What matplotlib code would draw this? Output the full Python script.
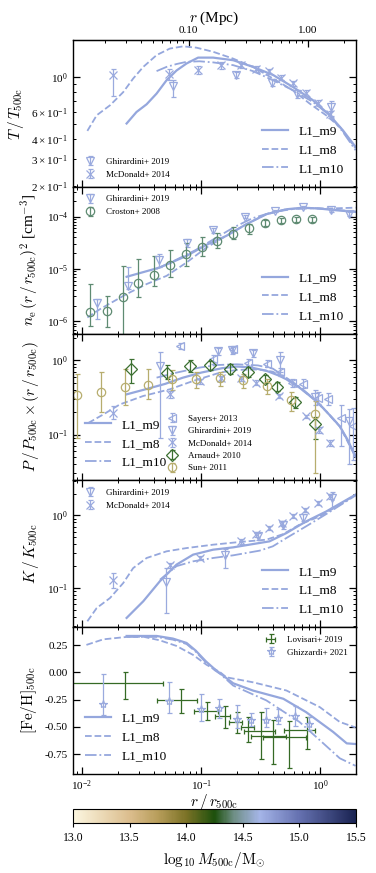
import numpy as np
import matplotlib
matplotlib.use('Agg')
import matplotlib.pyplot as plt
from matplotlib.colors import LinearSegmentedColormap, Normalize
from matplotlib.cm import ScalarMappable
from matplotlib.ticker import FormatStrFormatter, NullFormatter, FixedLocator

plt.rcParams['font.family'] = 'serif'
plt.rcParams['font.serif'] = ['Liberation Serif', 'DejaVu Serif']
plt.rcParams['mathtext.fontset'] = 'cm'
plt.rcParams['axes.unicode_minus'] = True

# colours
c_line = '#95a7dd'
c_blue = '#9aaade'
c_croston = '#5f8b72'
c_arnaud = '#3c7031'
c_sun = '#b7ad6e'
c_lov = '#356a25'

r500_mpc = 1.27

# ---------------- Temperature ----------------
T_m9_x = [0.0237, 0.0287, 0.0349, 0.0423, 0.0513, 0.0622, 0.0755, 0.0944, 0.126, 0.186, 0.273, 0.402, 0.59, 0.869, 1.20, 1.55, 1.98]
T_m9_y = [0.504, 0.597, 0.669, 0.783, 0.953, 1.10, 1.22, 1.33, 1.33, 1.28, 1.16, 1.03, 0.863, 0.710, 0.569, 0.456, 0.357]
T_m8_x = [0.0111, 0.0133, 0.0172, 0.0222, 0.0269, 0.0327, 0.0423, 0.0547, 0.0707, 0.0914, 0.126, 0.186, 0.273, 0.402, 0.59, 0.815, 1.12, 1.46, 1.98]
T_m8_y = [0.452, 0.569, 0.659, 0.80, 0.977, 1.16, 1.38, 1.52, 1.57, 1.54, 1.45, 1.31, 1.16, 0.977, 0.822, 0.676, 0.569, 0.479, 0.35]
T_m10_x = [0.0423, 0.0513, 0.0622, 0.0755, 0.097, 0.126, 0.186, 0.273, 0.402, 0.59, 0.869, 1.20, 1.55, 1.98]
T_m10_y = [1.09, 1.16, 1.21, 1.25, 1.26, 1.24, 1.19, 1.09, 0.953, 0.822, 0.692, 0.569, 0.445, 0.34]

T_gh_x = [0.058, 0.198, 0.397, 0.643, 1.24]
T_gh_y = [0.87, 1.03, 0.92, 0.775, 0.643]
T_gh_lo = [0.745, 0.98, 0.87, 0.73, 0.56]
T_gh_hi = [0.95, 1.08, 0.97, 0.82, 0.70]
T_md_x = [0.0183, 0.0536, 0.0944, 0.148, 0.218, 0.288, 0.372, 0.472, 0.59, 0.765, 0.958, 1.20]
T_md_y = [1.03, 1.04, 1.11, 1.19, 1.19, 1.13, 1.09, 0.99, 0.91, 0.79, 0.68, 0.58]
T_md_lo = [0.76, 0.96, 1.05, 1.13, 1.14, 1.08, 1.05, 0.95, 0.88, 0.76, 0.65, 0.55]
T_md_hi = [1.13, 1.12, 1.17, 1.25, 1.24, 1.18, 1.13, 1.03, 0.94, 0.82, 0.71, 0.61]

# ---------------- Density ----------------
n_m9_x = [0.0237, 0.0451, 0.0755, 0.111, 0.163, 0.240, 0.353, 0.520, 0.717, 0.989, 1.36, 1.98]
n_m9_y = [7.1e-6, 1.07e-5, 1.78e-5, 2.89e-5, 4.29e-5, 7.17e-5, 1.11e-4, 1.38e-4, 1.48e-4, 1.42e-4, 1.32e-4, 1.23e-4]
n_m8_x = [0.0111, 0.0142, 0.0237, 0.0349, 0.0513, 0.0755, 0.111, 0.163, 0.240, 0.353, 0.520, 0.760, 1.12, 1.98]
n_m8_y = [1.19e-6, 1.72e-6, 3.33e-6, 5.16e-6, 7.4e-6, 1.33e-5, 2.57e-5, 4.29e-5, 7.17e-5, 1.11e-4, 1.38e-4, 1.45e-4, 1.42e-4, 1.48e-4]
n_m10_x = [0.042, 0.06, 0.09, 0.13, 0.19, 0.27, 0.4, 0.6, 0.9, 1.3, 1.98]
n_m10_y = [1.0e-5, 1.45e-5, 2.3e-5, 3.8e-5, 6.3e-5, 9.3e-5, 1.22e-4, 1.4e-4, 1.45e-4, 1.36e-4, 1.25e-4]

n_gh_x = [0.0133, 0.0244, 0.0444, 0.0755, 0.126, 0.232, 0.415, 0.717, 1.24, 1.76]
n_gh_y = [2.2e-6, 4.8e-6, 1.48e-5, 3.2e-5, 5.5e-5, 9.9e-5, 1.29e-4, 1.53e-4, 1.32e-4, 1.11e-4]
n_gh_lo = [1.1e-6, 4.1e-6, 1.07e-5, 2.6e-5, 4.9e-5, 9.2e-5, 1.22e-4, 1.46e-4, 1.25e-4, 1.02e-4]
n_gh_hi = [2.7e-6, 1.07e-5, 1.9e-5, 3.7e-5, 6.0e-5, 1.06e-4, 1.36e-4, 1.60e-4, 1.39e-4, 1.2e-4]
n_cr_x = [0.0117, 0.0161, 0.0219, 0.0296, 0.0401, 0.0547, 0.0744, 0.101, 0.136, 0.185, 0.252, 0.342, 0.466, 0.631, 0.859]
n_cr_y = [1.48e-6, 1.6e-6, 2.86e-6, 5.3e-6, 7.8e-6, 1.19e-5, 1.92e-5, 2.65e-5, 3.45e-5, 4.7e-5, 6.0e-5, 7.5e-5, 8.5e-5, 8.9e-5, 8.9e-5]
n_cr_lo = [8.3e-7, 7.7e-7, 4.5e-7, 2.86e-6, 4.8e-6, 7.0e-6, 1.15e-5, 1.78e-5, 2.5e-5, 3.7e-5, 4.6e-5, 6.5e-5, 7.6e-5, 8.0e-5, 8.0e-5]
n_cr_hi = [5.2e-6, 3.1e-6, 1.15e-5, 1.54e-5, 1.78e-5, 2.3e-5, 3.2e-5, 4.0e-5, 4.95e-5, 6.2e-5, 7.2e-5, 8.5e-5, 9.3e-5, 9.7e-5, 9.7e-5]

# ---------------- Pressure ----------------
P_m9_x = [0.0237, 0.035, 0.05, 0.07, 0.1, 0.15, 0.2, 0.26, 0.353, 0.45, 0.52, 0.67, 0.926, 1.12, 1.46, 1.7, 1.98]
P_m9_y = [0.347, 0.41, 0.48, 0.58, 0.68, 0.78, 0.82, 0.80, 0.72, 0.62, 0.553, 0.427, 0.282, 0.206, 0.129, 0.085, 0.05]
P_m8_x = [0.0113, 0.0151, 0.0208, 0.0327, 0.0547, 0.0857, 0.144, 0.2, 0.3, 0.4, 0.52, 0.67, 0.926, 1.12, 1.46, 1.98]
P_m8_y = [0.143, 0.186, 0.254, 0.33, 0.406, 0.525, 0.68, 0.74, 0.75, 0.70, 0.56, 0.43, 0.28, 0.205, 0.128, 0.05]
P_m10_x = [0.0423, 0.0622, 0.097, 0.135, 0.2, 0.3, 0.4, 0.52, 0.67, 0.926, 1.12, 1.46, 1.98]
P_m10_y = [0.582, 0.68, 0.794, 0.86, 0.88, 0.85, 0.77, 0.58, 0.44, 0.285, 0.207, 0.13, 0.052]

P_sy_x = [0.066, 0.126, 0.185, 0.25, 0.36, 0.46, 0.58, 0.72, 0.95, 1.17, 1.5, 1.87]
P_sy_y = [1.56, 1.03, 1.40, 0.93, 0.90, 0.70, 0.50, 0.48, 0.31, 0.30, 0.165, 0.13]
P_sy_lo = [1.40, 0.90, 1.25, 0.83, 0.80, 0.62, 0.44, 0.42, 0.26, 0.25, 0.07, 0.045]
P_sy_hi = [1.72, 1.16, 1.55, 1.03, 1.00, 0.78, 0.56, 0.55, 0.37, 0.36, 0.25, 0.23]
P_gh_x = [0.045, 0.14, 0.182, 0.273, 0.46, 0.9, 1.76]
P_gh_y = [0.84, 1.32, 1.36, 1.25, 1.0, 0.32, 0.15]
P_gh_lo = [0.09, 1.18, 1.22, 1.12, 0.70, 0.25, 0.04]
P_gh_hi = [1.27, 1.45, 1.50, 1.38, 1.30, 0.40, 0.22]
P_md_x = [0.0183, 0.0547, 0.097, 0.148, 0.218, 0.29, 0.455, 0.76, 0.98, 1.2]
P_md_y = [0.196, 0.35, 0.52, 0.57, 0.57, 0.50, 0.33, 0.175, 0.115, 0.077]
P_md_lo = [0.16, 0.31, 0.48, 0.53, 0.53, 0.46, 0.31, 0.165, 0.105, 0.07]
P_md_hi = [0.24, 0.39, 0.56, 0.61, 0.61, 0.54, 0.35, 0.185, 0.125, 0.085]
P_ar_x = [0.0257, 0.0513, 0.080, 0.118, 0.174, 0.247, 0.342, 0.43, 0.62, 0.9]
P_ar_y = [0.75, 0.68, 0.83, 0.85, 0.77, 0.70, 0.56, 0.44, 0.27, 0.14]
P_ar_lo = [0.50, 0.55, 0.70, 0.73, 0.66, 0.60, 0.49, 0.38, 0.23, 0.086]
P_ar_hi = [1.05, 0.85, 1.00, 0.98, 0.90, 0.80, 0.64, 0.51, 0.32, 0.17]
P_sun_x = [0.0090, 0.0145, 0.023, 0.036, 0.057, 0.091, 0.144, 0.224, 0.36, 0.57, 0.9]
P_sun_y = [0.34, 0.37, 0.43, 0.47, 0.55, 0.55, 0.57, 0.54, 0.45, 0.29, 0.19]
P_sun_lo = [0.09, 0.20, 0.25, 0.30, 0.40, 0.42, 0.45, 0.42, 0.35, 0.21, 0.03]
P_sun_hi = [0.65, 0.70, 0.75, 0.75, 0.74, 0.70, 0.70, 0.66, 0.55, 0.37, 0.28]

# ---------------- Entropy ----------------
K_m9_x = [0.0237, 0.0327, 0.0451, 0.0622, 0.0857, 0.126, 0.186, 0.273, 0.375, 0.52, 0.76, 1.12, 1.98]
K_m9_y = [0.0387, 0.0656, 0.124, 0.21, 0.288, 0.337, 0.363, 0.403, 0.439, 0.571, 0.826, 1.13, 1.93]
K_m8_x = [0.0111, 0.0133, 0.0172, 0.0222, 0.0269, 0.0349, 0.0513, 0.0755, 0.126, 0.21, 0.353, 0.49, 0.67, 0.99, 1.46, 1.98]
K_m8_y = [0.0348, 0.053, 0.0728, 0.117, 0.188, 0.259, 0.32, 0.355, 0.395, 0.43, 0.463, 0.553, 0.745, 0.97, 1.40, 1.93]
K_m10_x = [0.0451, 0.0622, 0.0857, 0.126, 0.186, 0.31, 0.40, 0.52, 0.76, 1.12, 1.98]
K_m10_y = [0.13, 0.2, 0.233, 0.259, 0.282, 0.327, 0.375, 0.488, 0.706, 1.04, 1.88]

K_gh_x = [0.0503, 0.16, 0.30, 0.49, 0.72, 1.26]
K_gh_y = [0.121, 0.288, 0.52, 0.745, 0.93, 1.73]
K_gh_lo = [0.045, 0.19, 0.46, 0.66, 0.83, 1.25]
K_gh_hi = [0.19, 0.34, 0.58, 0.83, 1.03, 2.1]
K_md_x = [0.0183, 0.0547, 0.097, 0.218, 0.29, 0.37, 0.48, 0.59, 0.75, 0.96, 1.2]
K_md_y = [0.13, 0.205, 0.259, 0.44, 0.553, 0.669, 0.784, 0.97, 1.2, 1.48, 1.83]
K_md_lo = [0.10, 0.19, 0.245, 0.41, 0.51, 0.62, 0.72, 0.91, 1.12, 1.38, 1.7]
K_md_hi = [0.16, 0.22, 0.275, 0.47, 0.60, 0.72, 0.85, 1.03, 1.28, 1.58, 1.98]

# ---------------- Metallicity ----------------
Z_m9_x = [0.0237, 0.0423, 0.058, 0.0755, 0.09, 0.11, 0.13, 0.145, 0.186, 0.273, 0.49, 0.76, 1.28, 1.67, 1.98]
Z_m9_y = [0.334, 0.334, 0.31, 0.27, 0.20, 0.10, 0.03, -0.01, -0.10, -0.167, -0.242, -0.364, -0.545, -0.651, -0.657]
Z_m8_x = [0.0109, 0.0151, 0.0237, 0.0327, 0.045, 0.062, 0.0857, 0.111, 0.145, 0.163, 0.273, 0.52, 0.99, 1.46, 1.98]
Z_m8_y = [0.252, 0.303, 0.325, 0.327, 0.294, 0.243, 0.16, 0.07, 0.0, -0.045, -0.091, -0.166, -0.318, -0.455, -0.505]
Z_m10_x = [0.0237, 0.0423, 0.058, 0.0755, 0.09, 0.11, 0.13, 0.145, 0.186, 0.353, 0.67, 0.99, 1.46, 1.98]
Z_m10_y = [0.325, 0.325, 0.30, 0.26, 0.19, 0.09, 0.02, -0.015, -0.121, -0.257, -0.455, -0.621, -0.788, -0.857]

Z_lov_x = [0.0229, 0.0684, 0.112, 0.158, 0.201, 0.248, 0.32, 0.40, 0.55, 0.77]
Z_lov_y = [-0.10, -0.25, -0.35, -0.40, -0.455, -0.505, -0.536, -0.584, -0.597, -0.53]
Z_lov_xlo = [0.006, 0.0423, 0.087, 0.13, 0.17, 0.216, 0.23, 0.26, 0.33, 0.5]
Z_lov_xhi = [0.048, 0.0924, 0.14, 0.176, 0.22, 0.28, 0.42, 0.52, 0.76, 0.9]
Z_lov_ylo = [-0.248, -0.37, -0.44, -0.51, -0.56, -0.64, -0.79, -0.84, -0.88, -0.70]
Z_lov_yhi = [0.0, -0.15, -0.27, -0.31, -0.36, -0.41, -0.36, -0.44, -0.45, -0.41]
Z_ghz_x = [0.0151, 0.054, 0.099, 0.141, 0.201, 0.264, 0.35, 0.44, 0.61, 0.80]
Z_ghz_y = [-0.288, -0.258, -0.333, -0.327, -0.424, -0.433, -0.433, -0.415, -0.403, -0.47]
Z_ghz_ylo = [-0.39, -0.37, -0.45, -0.42, -0.51, -0.49, -0.50, -0.47, -0.49, -0.53]
Z_ghz_yhi = [-0.015, -0.09, -0.20, -0.24, -0.30, -0.37, -0.33, -0.34, -0.31, -0.41]

# colour bar
cb_nodes = [0.0, 0.2, 0.3, 0.4, 0.5, 0.57, 0.66, 0.8, 1.0]
cb_cols = ['#fcf6e0', '#dbbd8d', '#b79d5a', '#7b7226', '#1d500d', '#6f8f86', '#a5b5e8', '#6571b0', '#1a2352']


def bounds_err(y, lo, hi):
    y = np.array(y)
    return [y - np.array(lo), np.array(hi) - y]


fig, axes = plt.subplots(5, 1, figsize=(3.76, 8.73), dpi=100, sharex=True)
fig.subplots_adjust(left=0.194, right=0.947, top=0.954, bottom=0.1134, hspace=0)

ms = 6
ekw = dict(elinewidth=0.9, capsize=1.8, capthick=0.9, mew=0.9)
lfs = 6.5  # data legend font size


def lines(ax, m9, m8, m10, loc, **kw):
    l1, = ax.plot(*m9, color=c_line, lw=1.6, ls='-', label='L1_m9')
    l2, = ax.plot(*m8, color=c_line, lw=1.3, ls='--', label='L1_m8')
    l3, = ax.plot(*m10, color=c_line, lw=1.3, ls='-.', label='L1_m10')
    leg = ax.legend(handles=[l1, l2, l3], loc=loc, frameon=False, fontsize=9.5,
                    handlelength=2.0, labelspacing=0.5, **kw)
    ax.add_artist(leg)


# T panel
ax = axes[0]
lines(ax, (T_m9_x, T_m9_y), (T_m8_x, T_m8_y), (T_m10_x, T_m10_y), 'lower right')
h1 = ax.errorbar(T_gh_x, T_gh_y, yerr=bounds_err(T_gh_y, T_gh_lo, T_gh_hi), fmt='v', mfc='none',
                 mec=c_blue, color=c_blue, ms=ms, label='Ghirardini+ 2019', **ekw)
h2 = ax.errorbar(T_md_x, T_md_y, yerr=bounds_err(T_md_y, T_md_lo, T_md_hi), fmt='x', mfc='none',
                 mec=c_blue, color=c_blue, ms=ms, label='McDonald+ 2014', **ekw)
ax.legend(handles=[h1, h2], loc='lower left', frameon=False, fontsize=lfs, bbox_to_anchor=(0.0, 0.0))
ax.set_yscale('log')
ax.set_ylim(0.198, 1.72)
ax.set_ylabel(r'$T\,/\,T_{\rm 500c}$', fontsize=11)

# n panel
ax = axes[1]
lines(ax, (n_m9_x, n_m9_y), (n_m8_x, n_m8_y), (n_m10_x, n_m10_y), 'lower right')
h1 = ax.errorbar(n_gh_x, n_gh_y, yerr=bounds_err(n_gh_y, n_gh_lo, n_gh_hi), fmt='v', mfc='none',
                 mec=c_blue, color=c_blue, ms=ms, label='Ghirardini+ 2019', **ekw)
h2 = ax.errorbar(n_cr_x, n_cr_y, yerr=bounds_err(n_cr_y, n_cr_lo, n_cr_hi), fmt='o', mfc='none',
                 mec=c_croston, color=c_croston, ms=ms, label='Croston+ 2008', **ekw)
ax.legend(handles=[h1, h2], loc='upper left', frameon=False, fontsize=lfs, bbox_to_anchor=(0.0, 1.0))
ax.set_yscale('log')
ax.set_ylim(5.83e-7, 3.68e-4)
ax.set_ylabel(r'$n_{\rm e}\,(r\,/\,r_{\rm 500c})^2$ [cm$^{-3}$]', fontsize=11)

# P panel
ax = axes[2]
lines(ax, (P_m9_x, P_m9_y), (P_m8_x, P_m8_y), (P_m10_x, P_m10_y), 'lower left')
h1 = ax.errorbar(P_sy_x, P_sy_y, yerr=bounds_err(P_sy_y, P_sy_lo, P_sy_hi), fmt='<', mfc='none',
                 mec=c_blue, color=c_blue, ms=ms, label='Sayers+ 2013', **ekw)
h2 = ax.errorbar(P_gh_x, P_gh_y, yerr=bounds_err(P_gh_y, P_gh_lo, P_gh_hi), fmt='v', mfc='none',
                 mec=c_blue, color=c_blue, ms=ms, label='Ghirardini+ 2019', **ekw)
h3 = ax.errorbar(P_md_x, P_md_y, yerr=bounds_err(P_md_y, P_md_lo, P_md_hi), fmt='x', mfc='none',
                 mec=c_blue, color=c_blue, ms=ms, label='McDonald+ 2014', **ekw)
h4 = ax.errorbar(P_ar_x, P_ar_y, yerr=bounds_err(P_ar_y, P_ar_lo, P_ar_hi), fmt='D', mfc='none',
                 mec=c_arnaud, color=c_arnaud, ms=ms, label='Arnaud+ 2010', **ekw)
h5 = ax.errorbar(P_sun_x, P_sun_y, yerr=bounds_err(P_sun_y, P_sun_lo, P_sun_hi), fmt='o', mfc='none',
                 mec=c_sun, color=c_sun, ms=ms, label='Sun+ 2011', **ekw)
ax.legend(handles=[h1, h2, h3, h4, h5], loc='lower left', frameon=False, fontsize=lfs,
          bbox_to_anchor=(0.29, 0.0), labelspacing=0.45)
ax.set_yscale('log')
ax.set_ylim(0.0241, 2.27)
ax.set_ylabel(r'$P\,/\,P_{\rm 500c}\times(r\,/\,r_{\rm 500c})$', fontsize=11)

# K panel
ax = axes[3]
lines(ax, (K_m9_x, K_m9_y), (K_m8_x, K_m8_y), (K_m10_x, K_m10_y), 'lower right')
h1 = ax.errorbar(K_gh_x, K_gh_y, yerr=bounds_err(K_gh_y, K_gh_lo, K_gh_hi), fmt='v', mfc='none',
                 mec=c_blue, color=c_blue, ms=ms, label='Ghirardini+ 2019', **ekw)
h2 = ax.errorbar(K_md_x, K_md_y, yerr=bounds_err(K_md_y, K_md_lo, K_md_hi), fmt='x', mfc='none',
                 mec=c_blue, color=c_blue, ms=ms, label='McDonald+ 2014', **ekw)
ax.legend(handles=[h1, h2], loc='upper left', frameon=False, fontsize=lfs, bbox_to_anchor=(0.0, 1.0))
ax.set_yscale('log')
ax.set_ylim(0.0288, 3.03)
ax.set_ylabel(r'$K\,/\,K_{\rm 500c}$', fontsize=11)

# Fe/H panel
ax = axes[4]
lines(ax, (Z_m9_x, Z_m9_y), (Z_m8_x, Z_m8_y), (Z_m10_x, Z_m10_y), 'lower left',
      bbox_to_anchor=(0.0, 0.0))
zx = np.array(Z_lov_x)
h1 = ax.errorbar(Z_lov_x, Z_lov_y, xerr=[zx - np.array(Z_lov_xlo), np.array(Z_lov_xhi) - zx],
                 yerr=bounds_err(Z_lov_y, Z_lov_ylo, Z_lov_yhi), fmt='none',
                 color=c_lov, label='Lovisari+ 2019', elinewidth=0.9, capsize=1.8, capthick=0.9)
h2 = ax.errorbar(Z_ghz_x, Z_ghz_y, yerr=bounds_err(Z_ghz_y, Z_ghz_ylo, Z_ghz_yhi), fmt='*', mfc='none',
                 mec=c_blue, color=c_blue, ms=ms, label='Ghizzardi+ 2021', **ekw)
ax.legend(handles=[h1, h2], loc='upper right', frameon=False, fontsize=lfs, bbox_to_anchor=(1.0, 1.0))
ax.set_ylim(-0.932, 0.414)
ax.yaxis.set_major_locator(FixedLocator([-0.75, -0.5, -0.25, 0.0, 0.25]))
ax.yaxis.set_major_formatter(FormatStrFormatter('%.2f'))
ax.set_ylabel(r'$[{\rm Fe/H}]_{\rm 500c}$', fontsize=11)
ax.set_xscale('log')
ax.set_xlim(0.0084, 2.0)
ax.set_xlabel(r'$r\,/\,r_{\rm 500c}$', fontsize=11, labelpad=-1)

for ax in axes:
    ax.tick_params(which='both', direction='in', top=True, right=True, labelsize=8)
    ax.tick_params(which='major', length=5, width=0.9)
    ax.tick_params(which='minor', length=2.5, width=0.7)
    for s in ax.spines.values():
        s.set_linewidth(1.0)
axes[0].tick_params(which='both', top=False)

# top axis in Mpc
sec = axes[0].secondary_xaxis('top', functions=(lambda x: x * r500_mpc, lambda x: x / r500_mpc))
sec.xaxis.set_major_locator(FixedLocator([0.1, 1.0]))
sec.xaxis.set_major_formatter(FormatStrFormatter('%.2f'))
sec.xaxis.set_minor_formatter(NullFormatter())
sec.tick_params(which='both', direction='in', labelsize=8)
sec.tick_params(which='major', length=5, width=0.9)
sec.tick_params(which='minor', length=2.5, width=0.7)
sec.set_xlabel(r'$r$ (Mpc)', fontsize=11, labelpad=3)

# colour bar
cmap = LinearSegmentedColormap.from_list('mass', list(zip(cb_nodes, cb_cols)))
cax = fig.add_axes([0.194, 0.0573, 0.753, 0.016])
sm = ScalarMappable(norm=Normalize(13.0, 15.5), cmap=cmap)
cb = fig.colorbar(sm, cax=cax, orientation='horizontal')
cb.set_ticks([13.0, 13.5, 14.0, 14.5, 15.0, 15.5])
cb.ax.xaxis.set_major_formatter(FormatStrFormatter('%.1f'))
cb.ax.tick_params(labelsize=8.5, length=3)
cb.set_label(r'$\log_{10}M_{\rm 500c}/{\rm M}_{\odot}$', fontsize=11)

fig.savefig('out.png', dpi=100)
